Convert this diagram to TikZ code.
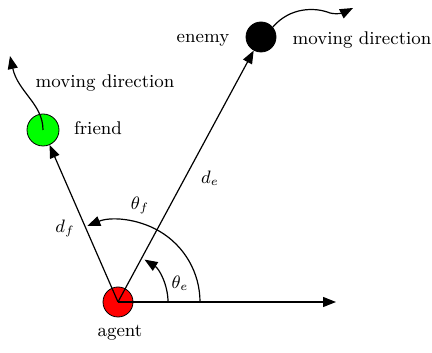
\documentclass[tikz,border=0pt]{standalone}
\usetikzlibrary{arrows.meta, calc}

\begin{document}
\begin{tikzpicture}[
    x=0.5pt, y=0.5pt,
    every node/.style={font=\fontsize{9.2}{11}\selectfont},
    agentdot/.style={circle, draw, fill=red, minimum size=15pt, inner sep=0pt},
    frienddot/.style={circle, draw, fill=green, minimum size=16pt, inner sep=0pt},
    enemydot/.style={circle, draw, fill=black, minimum size=15pt, inner sep=0pt},
    arr/.style={-{Triangle[length=6.5pt, width=5pt]}, semithick}
]
\useasboundingbox (0,0) rectangle (432,352);

% agents
\node[agentdot] (agent) at (118,50) {};
\node[frienddot] (friend) at (43,222) {};
\node[enemydot] (enemy) at (261,315) {};
\coordinate (xend) at (336,50);
\coordinate (fdir) at (10,296);
\coordinate (edir) at (353,344);

% labels
\node (lagent) at (120,19) {agent};
\node (lfriend) at (98,224) {friend};
\node (lfmove) at (105,269) {moving direction};
\node (lenemy) at (203,312) {enemy};
\node (lemove) at (362,312) {moving direction};

% axis and distances
\draw[arr] (agent.center) -- (xend);
\draw[arr] (agent.center) -- (friend);
\draw[arr] (agent.center) -- (enemy);
\node (df) at (65,124) {$d_f$};
\node (de) at (210,174) {$d_e$};

% angles
\draw[arr] ($(agent.center)+(82,0)$) arc[start angle=0, end angle=112, radius=41pt];
\draw[arr] ($(agent.center)+(50,0)$) arc[start angle=0, end angle=58, radius=25pt];
\node (thf) at (140,147) {$\theta_f$};
\node (the) at (180,69) {$\theta_e$};

% moving directions
\draw[arr] (friend.center) .. controls (43,248) and (18,260) .. (fdir);
\draw[arr] (enemy.40) .. controls (290,345) and (315,345) .. (330,339)
    .. controls (338,337) and (345,340) .. (edir);
\end{tikzpicture}
\end{document}
